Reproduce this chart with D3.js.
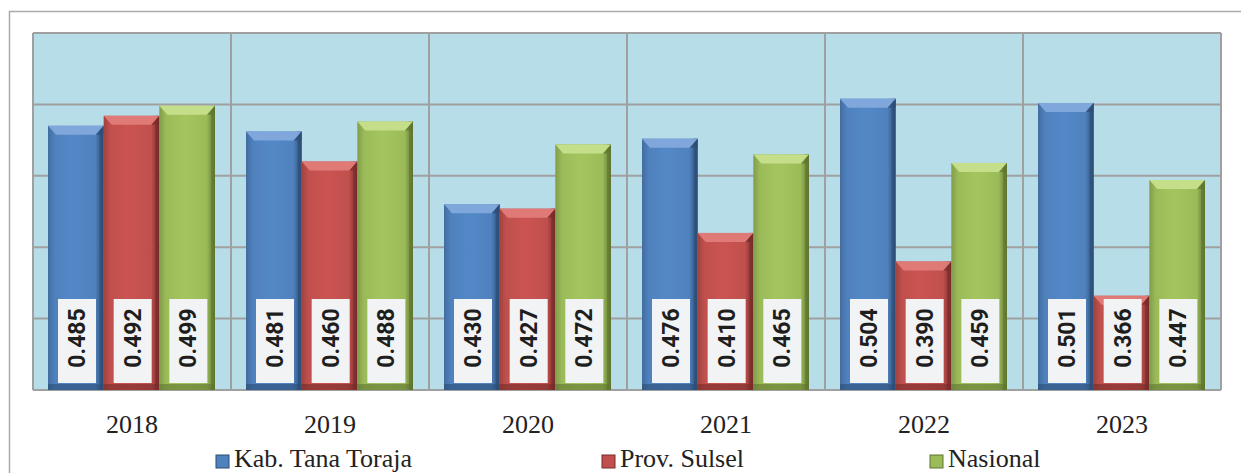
<!DOCTYPE html>
<html><head><meta charset="utf-8">
<script src="https://cdn.jsdelivr.net/npm/d3@7"></script>
<style>body{margin:0;background:#fff;}svg{display:block;}</style>
</head><body>
<svg id="c" width="1241" height="473"></svg>
<script>
const years = ["2018","2019","2020","2021","2022","2023"];
const seriesNames = ["Kab. Tana Toraja","Prov. Sulsel","Nasional"];
const toraja = [0.485,0.481,0.430,0.476,0.504,0.501];
const sulsel = [0.492,0.460,0.427,0.410,0.390,0.366];
const nasional = [0.499,0.488,0.472,0.465,0.459,0.447];
const yTicks = [0.30,0.35,0.40,0.45,0.50,0.55];
const colors = ["#4f81bd","#c0504d","#9bbb59"];
const darks = ["#2c4d75","#772c2a","#5f7530"];
const lights = ["#7fa7dc","#e07a77","#c4de8a"];

const svg = d3.select("#c");
const L=33,T=33,R=1221,B=390;
const x = d3.scaleBand().domain(years).range([L,R]).paddingInner(0).paddingOuter(0);
const xs = d3.scaleBand().domain(seriesNames).range([15, x.bandwidth()-16]).padding(0);
const y = d3.scaleLinear().domain([0.30,0.55]).range([B,T]);

const defs = svg.append("defs");
colors.forEach((c,i)=>{
  const g = defs.append("linearGradient").attr("id","g"+i).attr("x1","0").attr("x2","1").attr("y1","0").attr("y2","0");
  g.append("stop").attr("offset","0").attr("stop-color",d3.color(c).darker(0.5));
  g.append("stop").attr("offset","0.12").attr("stop-color",c);
  g.append("stop").attr("offset","0.45").attr("stop-color",d3.color(c).brighter(0.15));
  g.append("stop").attr("offset","0.85").attr("stop-color",c);
  g.append("stop").attr("offset","1").attr("stop-color",darks[i]);
});

// outer frame
svg.append("path").attr("d","M9.5,473 L9.5,11.5 L1241,11.5").attr("fill","none").attr("stroke","#aaaaaa").attr("stroke-width",1.5);

// plot background
svg.append("rect").attr("x",L).attr("y",T).attr("width",R-L).attr("height",B-T).attr("fill","#b7dde8");

// gridlines
svg.append("g").selectAll("line").data(yTicks).join("line")
  .attr("x1",L).attr("x2",R).attr("y1",d=>y(d)).attr("y2",d=>y(d))
  .attr("stroke","#a0a0a0").attr("stroke-width",2);
svg.append("g").selectAll("line").data(years.concat(["end"])).join("line")
  .attr("x1",d=>d==="end"?R:x(d)).attr("x2",d=>d==="end"?R:x(d)).attr("y1",T).attr("y2",B)
  .attr("stroke","#a0a0a0").attr("stroke-width",2);

const series = [toraja,sulsel,nasional];
const data = [];
years.forEach((yr,j)=>series.forEach((s,i)=>data.push({yr,i,v:s[j],name:seriesNames[i]})));

const bars = svg.append("g").selectAll("g").data(data).join("g")
  .attr("transform",d=>`translate(${x(d.yr)+xs(d.name)},0)`);
const bw = xs.bandwidth();
bars.append("rect").attr("x",0).attr("y",d=>y(d.v)).attr("width",bw).attr("height",d=>B-y(d.v))
  .attr("fill",d=>`url(#g${d.i})`);
// right dark edge
bars.append("rect").attr("x",bw-4).attr("y",d=>y(d.v)).attr("width",4).attr("height",d=>B-y(d.v))
  .attr("fill",d=>darks[d.i]).attr("opacity",0.6);
// top bevel
bars.append("path").attr("d",d=>{const t=y(d.v);return `M0,${t} L${bw},${t} L${bw-8},${t+9} L8,${t+9} Z`;})
  .attr("fill",d=>lights[d.i]);
bars.append("path").attr("d",d=>{const t=y(d.v);return `M${bw},${t} L${bw},${t+9} L${bw-8},${t+9} Z`;})
  .attr("fill",d=>darks[d.i]).attr("opacity",0.7);
// bottom shade
bars.append("rect").attr("x",0).attr("y",B-6).attr("width",bw).attr("height",6)
  .attr("fill",d=>darks[d.i]).attr("opacity",0.6);
// label box
bars.append("rect").attr("x",10).attr("y",299).attr("width",38).attr("height",84).attr("fill","#f2f3f4");
bars.append("text").attr("transform",`translate(${10+19+8},338) rotate(-90)`)
  .attr("text-anchor","middle").attr("font-family","Roboto").attr("font-weight","bold")
  .attr("font-size",23).attr("fill","#1e1e1e").text(d=>d.v.toFixed(3));

// x axis labels
svg.append("g").selectAll("text").data(years).join("text")
  .attr("x",d=>x(d)+x.bandwidth()/2).attr("y",433).attr("text-anchor","middle")
  .attr("font-family","Liberation Serif").attr("font-size",26).attr("fill","#222").text(d=>d);

// legend
const legX = [216,602,930];
const lg = svg.append("g").selectAll("g").data(seriesNames).join("g")
  .attr("transform",(d,i)=>`translate(${legX[i]},0)`);
lg.append("rect").attr("x",0).attr("y",455).attr("width",13).attr("height",13).attr("fill",(d,i)=>colors[i]);
lg.append("rect").attr("x",0).attr("y",455).attr("width",13).attr("height",13).attr("fill","none").attr("stroke",(d,i)=>darks[i]).attr("stroke-width",1);
lg.append("text").attr("x",18).attr("y",467).attr("font-family","Liberation Serif").attr("font-size",26).attr("fill","#222").text(d=>d);
</script>
</body></html>
